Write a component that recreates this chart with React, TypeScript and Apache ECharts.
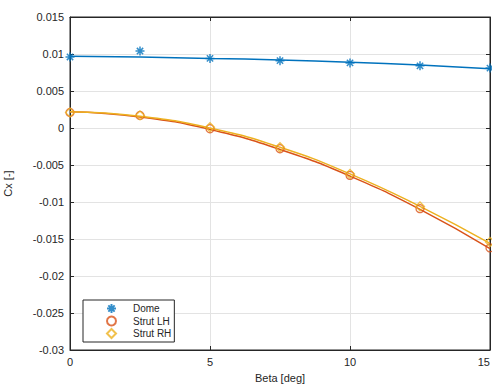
import React, { useEffect, useRef } from "react";
import * as echarts from "echarts";

const beta = [0, 2.5, 5, 7.5, 10, 12.5, 15];
const domeMeas = [0.0096, 0.0104, 0.0094, 0.0091, 0.0088, 0.0084, 0.0081];
const strutLHMeas = [0.0021, 0.0017, -0.0001, -0.0028, -0.0064, -0.0109, -0.0162];
const strutRHMeas = [0.0021, 0.0017, 0.0001, -0.0026, -0.0062, -0.0106, -0.0154];
const domeFit = [0.0097, 0.0096, 0.0094, 0.0092, 0.0089, 0.0085, 0.0080];
const strutLHFit = [0.0022, 0.0015, -0.0002, -0.0029, -0.0065, -0.0110, -0.0163];
const strutRHFit = [0.0022, 0.0016, 0.0000, -0.0026, -0.0062, -0.0106, -0.0156];

const BLUE = "#0072BD";
const ORANGE = "#D95319";
const YELLOW = "#EDB120";
const INK = "#262626";
const FONT = "Liberation Sans, Arial, sans-serif";
const ASTERISK =
  "path://M10,0 L10,20 M0,10 L20,10 M3,3 L17,17 M3,17 L17,3";

const pairs = (xs: number[], ys: number[]) => xs.map((x, i) => [x, ys[i]]);

export default function App() {
  const ref = useRef<HTMLDivElement>(null);
  useEffect(() => {
    if (!ref.current) return;
    const chart = echarts.init(ref.current, undefined, { renderer: "svg" });
    const fitLine = (name: string, ys: number[], color: string) => ({
      name,
      type: "line",
      data: pairs(beta, ys),
      smooth: true,
      showSymbol: false,
      symbol: "none",
      lineStyle: { color, width: 1.5 },
      z: 2,
      silent: true,
    });
    const tick = { show: true, inside: true, length: 4, lineStyle: { color: INK } };
    const line = { show: true, onZero: false, lineStyle: { color: INK } };
    chart.setOption({
      animation: false,
      backgroundColor: "#ffffff",
      textStyle: { fontFamily: FONT },
      grid: {
        left: 70,
        right: 2,
        top: 17,
        bottom: 35,
        outerBoundsMode: "none",
        containLabel: false,
        show: true,
        borderColor: INK,
        borderWidth: 1,
        backgroundColor: "#ffffff",
      },
      legend: {
        orient: "vertical",
        left: 83,
        top: 300,
        data: [
          { name: "Dome", icon: ASTERISK },
          { name: "Strut LH", icon: "circle" },
          { name: "Strut RH", icon: "diamond" },
        ],
        itemWidth: 9,
        itemHeight: 9,
        itemGap: 1.5,
        padding: [3, 3, 3, 23],
        borderColor: INK,
        borderWidth: 1,
        borderRadius: 0,
        backgroundColor: "#ffffff",
        textStyle: { fontSize: 10, color: INK, fontFamily: FONT, padding: [0, 0, 0, 12] },
      },
      xAxis: [
        {
          type: "value",
          min: 0,
          max: 15,
          interval: 5,
          name: "Beta [deg]",
          nameLocation: "middle",
          nameGap: 22,
          nameTextStyle: { fontSize: 11, color: INK, fontFamily: FONT },
          axisLine: line,
          axisTick: tick,
          axisLabel: { fontSize: 11, color: INK, margin: 6, alignMaxLabel: "right" },
          splitLine: { show: true, lineStyle: { color: "#e3e3e3", width: 1 } },
        },
        {
          type: "value",
          position: "top",
          min: 0,
          max: 15,
          interval: 5,
          axisLine: line,
          axisTick: tick,
          axisLabel: { show: false },
          splitLine: { show: false },
        },
      ],
      yAxis: [
        {
          type: "value",
          min: -0.03,
          max: 0.015,
          interval: 0.005,
          name: "Cx [-]",
          nameLocation: "middle",
          nameGap: 57,
          nameTextStyle: { fontSize: 11, color: INK, fontFamily: FONT },
          axisLine: line,
          axisTick: tick,
          axisLabel: {
            fontSize: 11,
            color: INK,
            margin: 6,
            formatter: (v: number) => String(Number(v.toFixed(4))),
          },
          splitLine: { show: true, lineStyle: { color: "#e3e3e3", width: 1 } },
        },
        {
          type: "value",
          position: "right",
          min: -0.03,
          max: 0.015,
          interval: 0.005,
          axisLine: line,
          axisTick: tick,
          axisLabel: { show: false },
          splitLine: { show: false },
        },
      ],
      series: [
        fitLine("Dome fit", domeFit, BLUE),
        fitLine("Strut LH fit", strutLHFit, ORANGE),
        fitLine("Strut RH fit", strutRHFit, YELLOW),
        {
          name: "Dome",
          type: "scatter",
          data: pairs(beta, domeMeas),
          symbol: ASTERISK,
          symbolSize: 9,
          itemStyle: { color: "transparent", borderColor: BLUE, borderWidth: 1.5 },
          z: 3,
        },
        {
          name: "Strut LH",
          type: "scatter",
          data: pairs(beta, strutLHMeas),
          symbol: "circle",
          symbolSize: 8,
          itemStyle: { color: "transparent", borderColor: ORANGE, borderWidth: 1.3 },
          z: 3,
        },
        {
          name: "Strut RH",
          type: "scatter",
          data: pairs(beta, strutRHMeas),
          symbol: "diamond",
          symbolSize: 9,
          itemStyle: { color: "transparent", borderColor: YELLOW, borderWidth: 1.3 },
          z: 4,
        },
      ],
    });
    return () => chart.dispose();
  }, []);
  return <div ref={ref} style={{ width: 492, height: 385, position: "absolute", left: 0, top: 0 }} />;
}
